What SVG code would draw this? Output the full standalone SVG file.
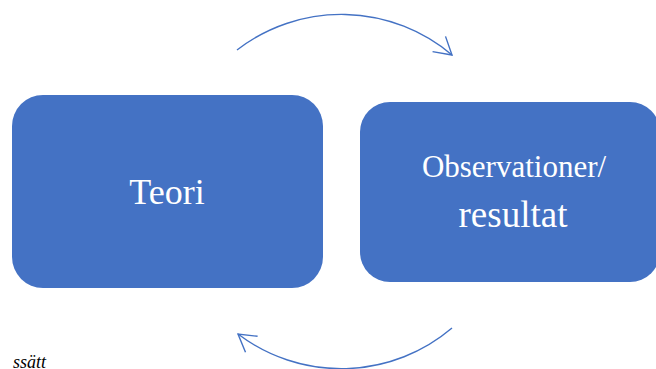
<svg xmlns="http://www.w3.org/2000/svg" width="656" height="369" viewBox="0 0 656 369">
<style>
.box{fill:#4472C4;}
.lbl{font-family:"Liberation Serif","Times New Roman",serif;fill:#ffffff;text-anchor:middle;}
.conn{fill:none;stroke:#4472C4;stroke-width:1.4;}
.cap{font-family:"Liberation Serif","Times New Roman",serif;font-style:italic;fill:#000000;font-size:18px;}
</style>
<defs>
<marker id="arr" markerUnits="userSpaceOnUse" markerWidth="30" markerHeight="30" viewBox="-20 -15 25 30" refX="0" refY="0" orient="auto">
<path d="M-17,-10 L0,0 L-17,10" fill="none" stroke="#4472C4" stroke-width="1.4"/>
</marker>
</defs>
<rect width="656" height="369" fill="#ffffff"/>
<g id="connectors">
<path class="conn" d="M237,50 A171,171 0 0 1 452,55" marker-end="url(#arr)"/>
<path class="conn" d="M452,328 A171,171 0 0 1 238,334" marker-end="url(#arr)"/>
</g>
<g id="teori">
<rect class="box" x="12" y="95" width="311" height="193" rx="31" ry="31"/>
<text class="lbl" x="167" y="204" font-size="36">Teori</text>
</g>
<g id="observationer">
<rect class="box" x="360" y="102" width="300" height="180" rx="30" ry="30"/>
<text class="lbl" x="514" y="177" font-size="31">Observationer/</text>
<text class="lbl" x="513" y="227" font-size="37">resultat</text>
</g>
<text class="cap" x="46" y="368" text-anchor="end">ssätt</text>
</svg>
